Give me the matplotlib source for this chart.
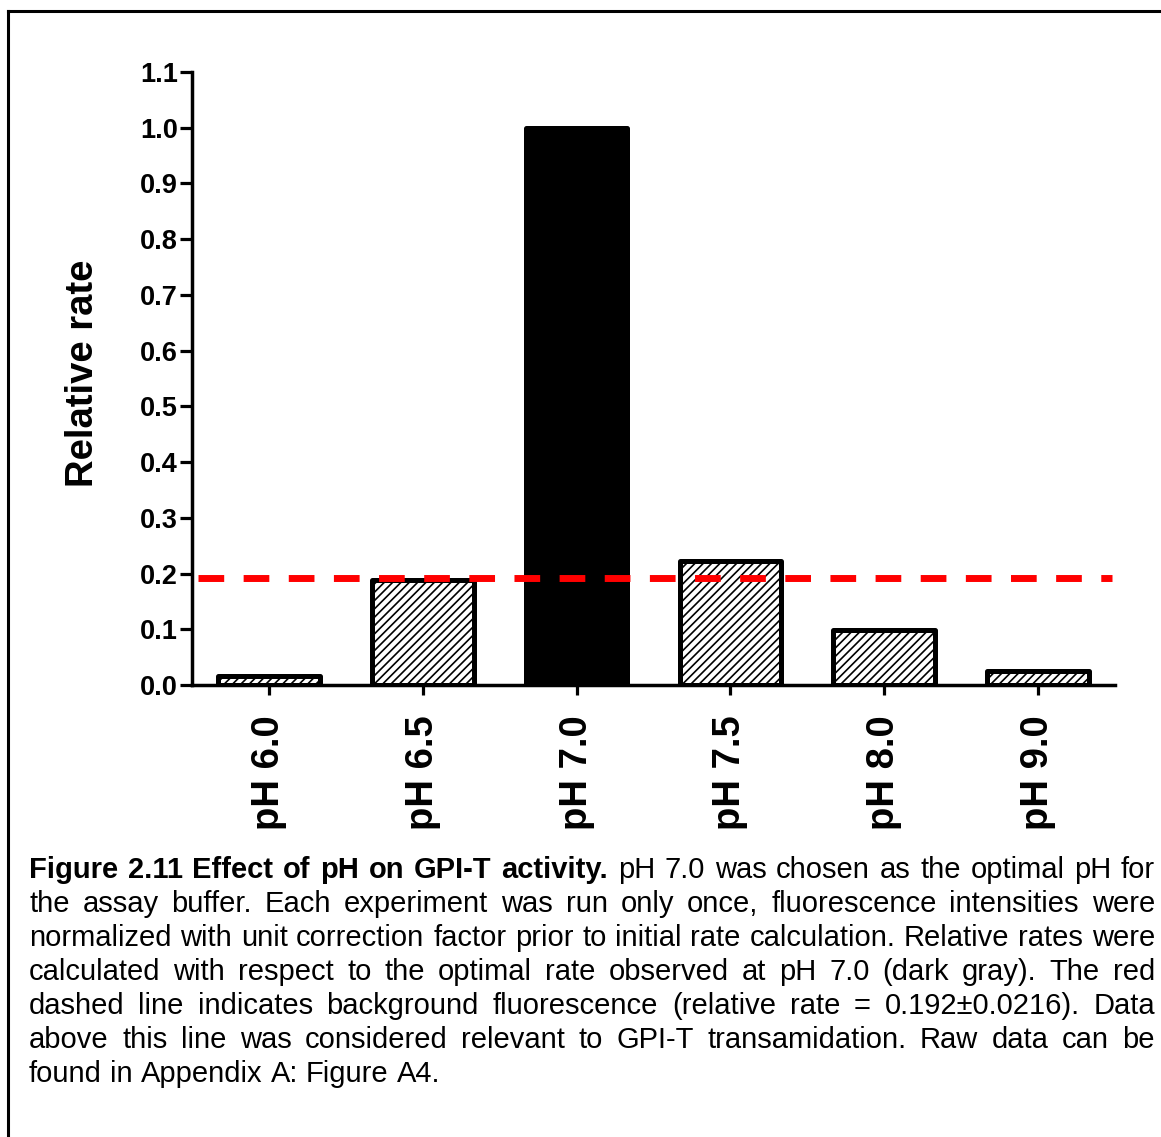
import matplotlib
matplotlib.use('Agg')
import matplotlib.pyplot as plt
from matplotlib.lines import Line2D

# ---------------- data ----------------
categories = ['pH 6.0', 'pH 6.5', 'pH 7.0', 'pH 7.5', 'pH 8.0', 'pH 9.0']
relative_rate = [0.016, 0.189, 1.0, 0.223, 0.098, 0.026]
optimal_category = 'pH 7.0'
background_rate = 0.192
yticks = [0.0, 0.1, 0.2, 0.3, 0.4, 0.5, 0.6, 0.7, 0.8, 0.9, 1.0, 1.1]
ytick_labels = ['0.0', '0.1', '0.2', '0.3', '0.4', '0.5', '0.6', '0.7', '0.8', '0.9', '1.0', '1.1']
ylabel = 'Relative rate'

caption_bold = 'Figure 2.11 Effect of pH on GPI-T activity.'
caption_lines = [
    'pH 7.0 was chosen as the optimal pH for',
    'the assay buffer. Each experiment was run only once, fluorescence intensities were',
    'normalized with unit correction factor prior to initial rate calculation. Relative rates were',
    'calculated with respect to the optimal rate observed at pH 7.0 (dark gray). The red',
    'dashed line indicates background fluorescence (relative rate = 0.192\u00b10.0216). Data',
    'above this line was considered relevant to GPI-T transamidation. Raw data can be',
    'found in Appendix A: Figure A4.',
]

# ---------------- style ----------------
plt.rcParams['font.family'] = ['Liberation Sans', 'DejaVu Sans']
plt.rcParams['hatch.linewidth'] = 1.2
plt.rcParams['lines.scale_dashes'] = False

W, H = 1161, 1137
fig = plt.figure(figsize=(W / 100, H / 100), dpi=100)
fig.patch.set_facecolor('white')

ax = fig.add_axes([192 / W, (H - 685) / H, (1115 - 192) / W, (685 - 72) / H])
xpos = list(range(len(categories)))
for i, (cat, val) in enumerate(zip(categories, relative_rate)):
    if cat == optimal_category:
        ax.bar(i, val, width=0.66, color='black', edgecolor='black',
               linewidth=3.6, joinstyle='round', zorder=3)
    else:
        ax.bar(i, val, width=0.66, facecolor='white', edgecolor='black',
               hatch='////', linewidth=3.6, joinstyle='round', zorder=3)

ax.plot([-0.46, 5.48], [background_rate, background_rate], color='#ff0000',
        lw=5, dashes=(18.5, 14), dash_capstyle='butt', zorder=5, clip_on=False)

ax.set_xlim(-0.5, 5.5)
ax.set_ylim(0, 1.1)
ax.set_yticks(yticks)
ax.set_yticklabels(ytick_labels, fontsize=19.5, fontweight='bold')
ax.set_xticks(xpos)
ax.set_xticklabels(categories, rotation=90, fontsize=27.5, fontweight='bold')
ax.tick_params(axis='y', length=8.5, width=2.3, pad=1.5, direction='out')
ax.tick_params(axis='x', length=7.5, width=2.3, pad=14, direction='out')
for s in ['top', 'right']:
    ax.spines[s].set_visible(False)
for s in ['left', 'bottom']:
    ax.spines[s].set_linewidth(2.5)
    ax.spines[s].set_capstyle('projecting')

fig.text(83 / W, 1 - 373 / H, ylabel, rotation=90, ha='center', va='center',
         fontsize=27.5, fontweight='bold')

# frame around figure
fig.add_artist(Line2D([8 / W, 8 / W], [0, 1 - 11 / H], transform=fig.transFigure,
                      color='black', lw=2.2, solid_capstyle='projecting'))
fig.add_artist(Line2D([8 / W, 1], [1 - 11 / H, 1 - 11 / H], transform=fig.transFigure,
                      color='black', lw=2.2, solid_capstyle='projecting'))

# ---------------- caption (justified) ----------------
renderer = fig.canvas.get_renderer()
left_px, right_px = 29, 1155
fs = 21
baselines = [878, 912, 946, 980, 1014, 1048, 1082]
space_px = 0.278 * fs * 100 / 72

for li, line in enumerate(caption_lines):
    words = [(w, False) for w in line.split(' ')]
    if li == 0:
        words = [(w, True) for w in caption_bold.split(' ')] + words
    texts = []
    for w, b in words:
        t = fig.text(0, 1 - baselines[li] / H, w, fontsize=fs,
                     fontweight='bold' if b else 'normal', ha='left', va='baseline')
        texts.append(t)
    widths = [t.get_window_extent(renderer).width for t in texts]
    justify = li < len(caption_lines) - 1
    if justify and len(texts) > 1:
        gap = (right_px - left_px - sum(widths)) / (len(texts) - 1)
    else:
        gap = space_px
    x = left_px
    for t, w in zip(texts, widths):
        t.set_x(x / W)
        x += w + gap

fig.savefig('out.png', dpi=100)
